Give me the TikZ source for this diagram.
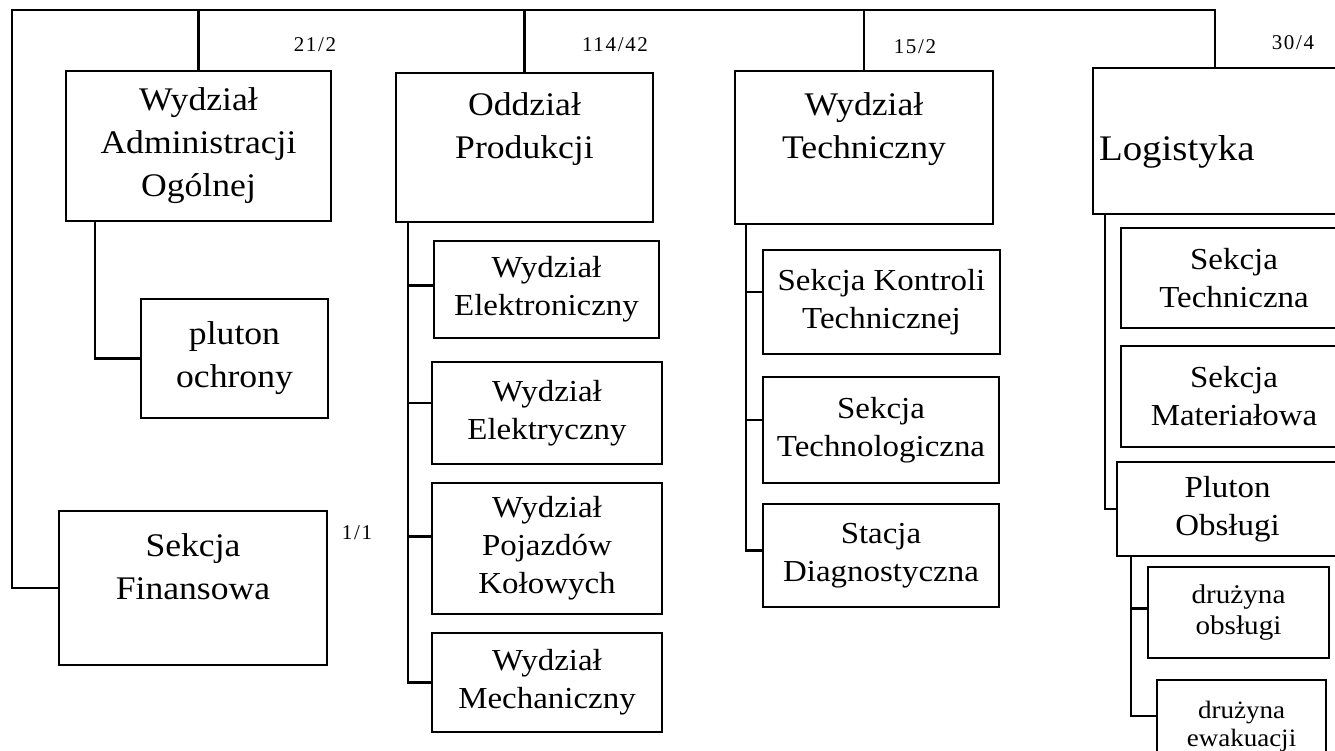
\documentclass[tikz,border=0pt]{standalone}
\usepackage{fontspec}
\setmainfont[FakeStretch=1.08]{Liberation Serif}
\newfontfamily\numfont[LetterSpace=8]{Liberation Serif}

% #1 style, #2 name, #3 x1, #4 y1, #5 x2, #6 y2, #7 text
\newcommand\orgunit[7]{%
  \node[#1, minimum width={(#5-#3)*1pt}, minimum height={(#6-#4)*1pt}]
    (#2) at ({(#3+#5)/2},{(#4+#6)/2}) {#7};}

\tikzset{
  unit/.style={draw, line width=2.4pt, inner sep=0pt, align=center,
               font=\fontsize{30.5}{38}\selectfont},
  bigunit/.style={unit, font=\fontsize{33}{43}\selectfont},
  smallunit/.style={unit, font=\fontsize{27}{31}\selectfont},
  tinyunit/.style={unit, font=\fontsize{25}{28}\selectfont},
  staff/.style={inner sep=0pt, font=\numfont\fontsize{21}{23}\selectfont},
  link/.style={line width=2.2pt},
}

\begin{document}
\begin{tikzpicture}[x=1pt, y=-1pt]
\useasboundingbox (0,0) rectangle (1335,750);
\clip (0,0) rectangle (1335,750);

% top-level units
\orgunit{bigunit}{adm}{66}{71}{331}{221}{Wydział\\Administracji\\Ogólnej}
\orgunit{bigunit}{prod}{396}{73}{653}{222}{Oddział\\Produkcji\\\mbox{}}
\orgunit{bigunit}{tech}{735}{71}{993}{224}{Wydział\\Techniczny\\\mbox{}}
\orgunit{unit, font=\fontsize{36}{43}\selectfont, text width=232pt, align=left}{log}{1093}{68}{1337}{214}{\raisebox{-11pt}[\height][\depth]{Logistyka}}
\orgunit{bigunit}{fin}{59}{511}{327}{665}{Sekcja\\Finansowa\\\mbox{}}

% administration
\orgunit{bigunit}{plo}{141}{299}{328}{418}{pluton\\ochrony}

% production
\orgunit{unit}{e1}{434}{241}{659}{338}{Wydział\\Elektroniczny}
\orgunit{unit}{e2}{432}{362}{662}{464}{Wydział\\Elektryczny}
\orgunit{unit}{e3}{432}{483}{662}{614}{Wydział\\Pojazdów\\Kołowych}
\orgunit{unit}{e4}{432}{633}{662}{732}{Wydział\\Mechaniczny}

% technical
\orgunit{unit}{t1}{763}{250}{1000}{354}{Sekcja Kontroli\\Technicznej}
\orgunit{unit}{t2}{763}{377}{999}{483}{Sekcja\\Technologiczna}
\orgunit{unit}{t3}{763}{504}{999}{607}{Stacja\\Diagnostyczna}

% logistics
\orgunit{unit}{l1}{1121}{228}{1347}{328}{Sekcja\\Techniczna}
\orgunit{unit}{l2}{1121}{346}{1347}{447}{Sekcja\\Materiałowa}
\orgunit{unit}{l3}{1117}{462}{1338}{556}{Pluton\\Obsługi}
\orgunit{smallunit}{l4}{1148}{567}{1329}{658}{drużyna\\obsługi}
\orgunit{tinyunit}{l5}{1157}{680}{1326}{772}{drużyna\\ewakuacji}

% staff numbers
\node[staff] (n1) at (315,45) {21/2};
\node[staff] (n2) at (615,45) {114/42};
\node[staff] (n3) at (915,47) {15/2};
\node[staff] (n4) at (1293,43) {30/4};
\node[staff] (n5) at (357,533) {1/1};

% main bus
\coordinate (bus) at (12,10);
\draw[link] (fin.west) -| (bus) -| (log.north);
\draw[link] (adm.north) -- (adm.north |- bus);
\draw[link] (prod.north) -- (prod.north |- bus);
\draw[link] (tech.north) -- (tech.north |- bus);

% administration branch
\draw[link] ([xshift=30pt]adm.south west) |- (plo.west);

% production branch
\coordinate (pt) at ([xshift=13pt]prod.south west);
\coordinate (e1b) at ([yshift=4pt]e1.west);
\coordinate (e2b) at ([yshift=10pt]e2.west);
\coordinate (e3b) at ([yshift=12pt]e3.west);
\draw[link] (pt) |- (e4.west);
\draw[link] (e1b) -- (e1b -| pt);
\draw[link] (e2b) -- (e2b -| pt);
\draw[link] (e3b) -- (e3b -| pt);

% technical branch
\coordinate (tt) at ([xshift=12pt]tech.south west);
\coordinate (t1b) at ([yshift=10pt]t1.west);
\coordinate (t2b) at ([yshift=10pt]t2.west);
\coordinate (t3b) at ([yshift=5pt]t3.west);
\draw[link] (tt) |- (t3b);
\draw[link] (t1b) -- (t1b -| tt);
\draw[link] (t2b) -- (t2b -| tt);

% logistics branch
\coordinate (lt) at ([xshift=13pt]log.south west);
\draw[link] (lt) |- (l3.west);
\coordinate (ot) at ([xshift=15pt]l3.south west);
\coordinate (l4b) at ([yshift=4pt]l4.west);
\coordinate (l5b) at ([yshift=10pt]l5.west);
\draw[link] (ot) |- (l5b);
\draw[link] (l4b) -- (l4b -| ot);
\end{tikzpicture}
\end{document}
